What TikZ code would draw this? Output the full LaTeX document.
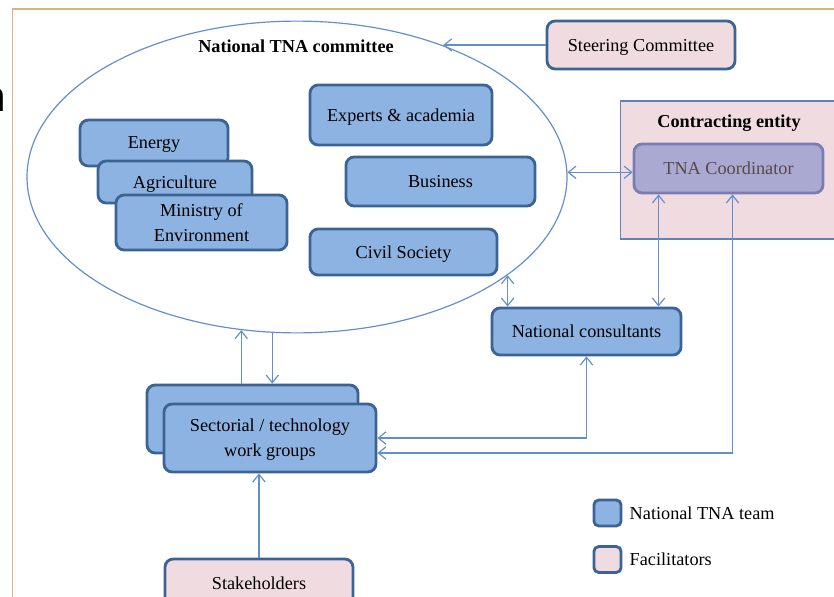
\documentclass[tikz,border=0pt]{standalone}
\usepackage{fontspec}
\setmainfont{Liberation Serif}
\newfontfamily\slidefont{Liberation Sans}
\usetikzlibrary{arrows.meta,calc,positioning,shapes.geometric}
\definecolor{teamblue}{HTML}{8DB3E2}
\definecolor{teamedge}{HTML}{3B6494}
\definecolor{facilpink}{HTML}{F0DCE0}
\definecolor{entityedge}{HTML}{5F82B8}
\definecolor{coordlilac}{HTML}{A9A9D1}
\definecolor{coordedge}{HTML}{7C7CB4}
\definecolor{coordtext}{HTML}{5A4848}
\definecolor{linkblue}{HTML}{628FCB}
\definecolor{frametan}{HTML}{DDB27C}

\begin{document}
\begin{tikzpicture}[x=0.85pt,y=-0.85pt,
  font=\fontsize{15.5}{21}\selectfont,
  >={Straight Barb[length=6.5pt,width=10.5pt]},
  team/.style={draw=teamedge,line width=2.4pt,fill=teamblue,rounded corners=7pt,align=center,inner sep=2pt,text depth=0pt},
  facil/.style={team,fill=facilpink},
  title/.style={font=\fontsize{15.5}{21}\selectfont\bfseries,text depth=0pt},
  link/.style={linkblue,line width=1pt}]
  \useasboundingbox (0,0) rectangle (834,597);
  \fill[white] (0,0) rectangle (834,597);
  \draw[frametan,line width=1.6pt] (12.5,597) -- (12.5,9) -- (834,9);
  \node[font=\slidefont\fontsize{36}{36}\selectfont,anchor=base east,inner sep=0] (cutn) at (6,111) {n};
  % committee
  \node[draw=linkblue,line width=1pt,fill=white,ellipse,minimum width=459pt,minimum height=265pt,inner sep=0] (tnac) at (297,177) {};
  \node[title] (tnactitle) at (296,46) {National TNA committee};
  \node[team,minimum width=125.8pt,minimum height=39pt] (energy) at (154,143) {Energy};
  \node[team,minimum width=130.9pt,minimum height=35.7pt] (agri) at (175,182) {Agriculture};
  \node[team,minimum width=145.4pt,minimum height=46.8pt] (minenv) at (201.5,222.5) {Ministry of\\Environment};
  \node[team,minimum width=154.7pt,minimum height=51pt] (experts) at (401,115) {Experts \& academia};
  \node[team,minimum width=160.7pt,minimum height=41.7pt] (business) at (440.5,181.5) {Business};
  \node[team,minimum width=159pt,minimum height=39.1pt] (civil) at (403.5,252) {Civil Society};
  % facilitators
  \node[facil,minimum width=159.8pt,minimum height=40.8pt] (steer) at (641,45) {Steering Committee};
  \node[draw=entityedge,line width=1pt,fill=facilpink,minimum width=191pt,minimum height=117.3pt] (entity) at (732.5,170) {};
  \node[title] (entitytitle) at (729,121) {Contracting entity};
  \node[team,draw=coordedge,fill=coordlilac,text=coordtext,minimum width=160.7pt,minimum height=41.7pt] (coord) at (728.5,168.5) {TNA Coordinator};
  \node[team,minimum width=160.7pt,minimum height=40pt] (cons) at (586.5,331.5) {National consultants};
  % work groups
  \node[team,minimum width=179.4pt,minimum height=57.8pt] (wgback) at (252.5,419) {};
  \node[team,minimum width=180.2pt,minimum height=57.8pt] (wgfront) at (270,438) {Sectorial / technology\\work groups};
  \node[facil,minimum width=159.8pt,minimum height=40.8pt] (stake) at (259,583) {Stakeholders};
  % legend
  \node[team,minimum width=23pt,minimum height=22pt,rounded corners=4pt] (legteam) at (607.5,513) {};
  \node[right=6pt of legteam,inner sep=0] (legteamtext) {National TNA team};
  \node[facil,minimum width=23pt,minimum height=22pt,rounded corners=4pt] (legfacil) at (607.5,559.5) {};
  \node[right=6pt of legfacil,inner sep=0] (legfaciltext) {Facilitators};
  % links
  \draw[link,->] (steer.west) -- (steer.west -| tnac.42);
  \draw[link,<->] (tnac.1) -- (tnac.1 -| coord.west);
  \draw[link,<->] (tnac.-25) -- (tnac.-25 |- cons.north);
  \coordinate (c1) at ($(coord.south west)+(26,0)$);
  \draw[link,<->] (c1) -- (c1 |- cons.north);
  \draw[link,->] (tnac.-110 |- wgback.north) -- (tnac.-110);
  \draw[link,->] (tnac.-99) -- (tnac.-99 |- wgback.north);
  \draw[link,->] (stake.north) -- (stake.north |- wgfront.south);
  \draw[link,<->] (cons.south) |- (wgfront.east);
  \coordinate (c2) at ($(coord.south)+(4,0)$);
  \coordinate (w2) at ($(wgfront.east)+(0,15)$);
  \draw[link,<->] (c2) |- (w2);
\end{tikzpicture}
\end{document}
